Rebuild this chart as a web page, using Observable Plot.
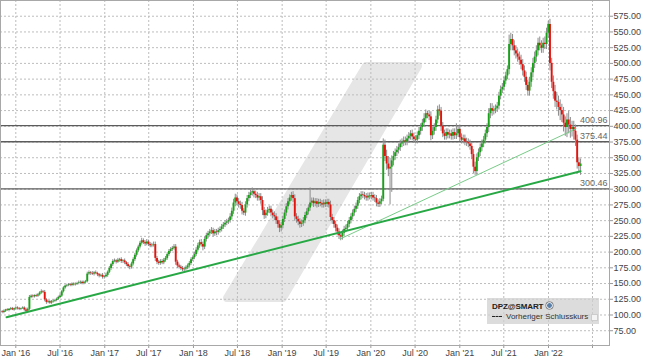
<!DOCTYPE html>
<html><head><meta charset="utf-8">
<script src="https://cdn.jsdelivr.net/npm/d3@7"></script>
<script src="https://cdn.jsdelivr.net/npm/@observablehq/plot@0.6"></script>
<style>
html,body{margin:0;padding:0;background:#fff;}
#chart{position:relative;width:645px;height:364px;font-family:"Liberation Sans",Arial,sans-serif;}
#legend{position:absolute;left:487px;top:298px;width:112px;height:26px;background:rgba(208,208,208,0.75);font-size:8px;color:#222;}
#legend .l1{position:absolute;left:5px;top:4px;font-weight:bold;letter-spacing:-0.1px;}
#legend .globe{display:inline-block;width:5px;height:5px;border-radius:50%;background:#5a7fa8;margin-left:3px;vertical-align:0px;border:1px solid #fff;box-shadow:0 0 0 0.5px #666;}
#legend .l2{position:absolute;left:5px;top:14px;white-space:nowrap;color:#333;}
#legend .dash{display:inline-block;width:10px;height:0;border-top:1px dashed #222;vertical-align:2px;margin-right:4px;}
#legend .box{position:absolute;left:99px;top:2px;width:5px;height:5px;background:#f4f4f4;border:0.5px solid #ccc;}
</style>
</head><body>
<div id="chart"><div id="legend"><div class="l1">DPZ@SMART<span class="globe"></span></div><div class="l2"><span class="dash"></span>Vorheriger Schlusskurs<span class="box"></span></div></div></div>
<script>
// ---- data (weekly candles, DPZ) ----
const firstWeek = "2015-11-06";
const firstOpen = 105;
const weeklyClose = [
104,106,108,107,109,110,108,110,111,110,
109,110,111,108,106,109,128,130,129,131,
130,132,135,137,136,124,120,121,119,121,
122,123,125,128,130,137,143,146,147,148,
147,149,148,149,150,151,152,150,152,153,
165,167,166,165,167,166,164,162,163,160,
161,163,168,174,180,185,186,184,187,188,
185,186,183,180,177,176,181,188,195,202,
208,214,218,215,213,216,212,210,211,212,
190,184,182,185,183,187,190,196,201,204,
206,208,184,178,176,174,172,173,175,178,
182,188,191,196,203,210,215,212,208,220,
226,229,232,234,229,232,231,234,236,240,
243,246,248,250,256,265,278,286,280,276,
274,265,262,275,285,290,294,296,292,290,
286,288,282,266,258,262,266,268,262,258,
256,250,244,238,242,252,262,272,280,286,
290,285,256,252,248,244,246,250,258,264,
270,278,281,277,280,276,279,277,275,278,
276,279,275,255,250,244,238,232,226,224,
230,236,238,244,250,256,262,268,273,282,
288,291,290,288,286,289,288,290,286,285,
278,276,280,284,370,352,340,332,335,345,
352,358,362,366,372,374,377,375,380,384,
388,383,379,378,385,392,398,405,412,420,
418,415,385,392,398,410,426,424,400,388,
384,390,386,388,384,390,385,388,395,382,
378,380,375,374,372,368,355,335,328,350,
358,366,372,378,388,398,420,428,424,426,
428,432,448,458,462,472,480,490,530,538,
528,520,515,510,505,498,488,478,465,456,
470,485,500,510,520,532,528,524,532,530,
548,562,500,470,455,440,438,430,425,418,
405,398,410,402,395,398,392,378,342,336,
340];
const upperWick = [
2,2,1,2,1,2,2,1,2,2, 2,1,2,2,3,2,3,2,2,1, 2,2,2,3,2,3,2,2,2,2, 2,2,2,2,3,2,2,2,2,2,
2,2,2,2,2,3,2,2,2,2, 3,3,2,3,2,3,2,2,2,3, 2,3,2,3,2,3,3,2,3,2, 3,2,3,2,3,2,3,3,3,3,
3,3,4,3,3,4,3,3,3,4, 4,3,3,3,3,3,3,3,3,3, 3,4,4,3,3,3,3,3,3,3, 3,3,3,4,4,4,4,5,4,4,
4,4,4,5,4,4,4,4,4,4, 4,4,4,4,5,5,6,6,5,5, 5,5,4,5,5,5,5,6,5,5, 5,5,5,6,5,5,5,5,5,5,
6,5,6,6,5,5,5,5,5,5, 5,6,6,5,5,5,5,5,5,5, 5,24,5,5,5,5,5,5,5,5, 5,5,5,6,5,5,5,5,5,5,
5,5,5,5,5,5,5,5,5,5, 5,5,5,5,5,5,5,5,5,5, 5,5,5,5,10,8,10,12,14,8, 8,6,6,6,6,6,6,6,6,6,
5,6,6,6,6,6,6,6,8,6, 4,6,8,6,6,6,6,8,6,6, 6,6,6,6,6,6,6,16,6,6, 6,6,6,6,6,6,6,8,8,6,
6,6,6,6,6,6,8,8,8,6, 6,6,6,6,6,6,6,6,15,10, 8,8,8,8,8,8,8,8,8,8, 8,8,8,8,8,8,10,8,8,10,
8,5,8,8,10,10,14,10,12,10, 12,10,10,14,12,10,10,10,8,8, 8];
const lowerWick = [
2,2,2,1,2,2,1,2,2,2, 2,2,1,2,3,2,2,2,2,2, 2,2,2,2,2,3,3,2,2,2, 2,2,2,2,2,2,2,2,2,2,
2,2,2,2,2,2,2,2,2,2, 2,2,3,2,3,2,3,3,2,3, 3,2,3,2,3,3,2,3,2,3, 3,3,3,3,3,4,3,3,3,3,
3,3,3,3,4,3,3,3,3,3, 5,4,3,3,3,3,3,3,3,3, 3,3,5,4,3,3,3,3,3,3, 3,3,3,3,3,3,4,4,6,4,
4,5,4,4,5,4,5,4,4,4, 4,4,4,4,4,5,5,6,6,6, 6,6,4,5,5,5,5,5,6,5, 5,5,6,8,6,5,5,5,6,5,
6,6,6,7,6,5,5,5,5,5, 5,6,7,6,6,6,5,5,5,5, 5,5,5,6,5,6,5,5,5,5, 5,5,5,6,6,6,6,6,6,6,
5,5,5,5,5,5,5,5,5,5, 5,5,5,5,5,5,5,5,5,6, 6,5,5,5,4,8,10,12,57,40, 8,6,6,6,6,6,6,6,6,6,
6,6,6,6,6,6,6,6,6,6, 6,6,8,6,6,6,6,8,8,6, 6,6,6,6,6,6,6,6,6,6, 6,6,6,6,6,6,8,10,6,6,
6,6,6,6,6,6,8,8,8,6, 6,6,6,6,6,6,6,6,8,10, 8,8,8,8,8,8,8,8,8,8, 8,8,8,8,8,8,8,8,8,8,
8,8,12,10,12,10,12,14,16,12, 14,14,16,14,14,12,14,10,10,8, 14];

const levelValues = [400.96, 375.44, 300.46];
const mainTrendDates = ["2015-11-24", "2022-05-13"];
const mainTrendValues = [96.5, 328.6];
const fastTrendDates = ["2019-08-28", "2022-04-24"];
const fastTrendValues = [221, 396];
const yTickValues = [75,100,125,150,175,200,225,250,275,300,325,350,375,400,425,450,475,500,525,550,575];
const xTickDates = ["2016-01-01","2016-07-01","2017-01-01","2017-07-01","2018-01-01","2018-07-01","2019-01-01","2019-07-01","2020-01-01","2020-07-01","2021-01-01","2021-07-01","2022-01-01","2022-07-01"];
const xTickLabels = ["Jan '16","Jul '16","Jan '17","Jul '17","Jan '18","Jul '18","Jan '19","Jul '19","Jan '20","Jul '20","Jan '21","Jul '21","Jan '22",""];

// ---- build ----
const t0 = new Date(firstWeek + "T00:00:00Z");
const candles = weeklyClose.map((c, i) => {
  const o = i === 0 ? firstOpen : weeklyClose[i - 1];
  return {date: d3.utcDay.offset(t0, 7 * i), open: o, close: c,
          high: Math.max(o, c) + upperWick[i], low: Math.min(o, c) - lowerWick[i]};
});
const toDate = s => new Date(s + "T00:00:00Z");
const mainTrend = mainTrendDates.map((d, i) => ({date: toDate(d), value: mainTrendValues[i]}));
const fastTrend = fastTrendDates.map((d, i) => ({date: toDate(d), value: fastTrendValues[i]}));
const xTicks = xTickDates.map(toDate);
const labelOf = new Map(xTicks.map((d, i) => [+d, xTickLabels[i]]));

const plot = Plot.plot({
  width: 645, height: 364,
  marginLeft: 0, marginRight: 36, marginTop: 0, marginBottom: 19,
  style: {fontFamily: "'Liberation Sans', Arial, sans-serif", fontSize: "9px", color: "#444", background: "#fff"},
  x: {type: "utc", domain: [toDate("2015-10-30"), toDate("2022-09-09")]},
  y: {domain: [51.5, 600]},
  color: {type: "identity"},
  marks: [
    Plot.gridY(yTickValues, {stroke: "#bdbdbd", strokeOpacity: 1, strokeDasharray: "2,2"}),
    Plot.gridX(xTicks, {stroke: "#bdbdbd", strokeOpacity: 1, strokeDasharray: "2,2"}),
    Plot.ruleY(levelValues, {stroke: "#5c5c5c", strokeWidth: 1.3}),
    Plot.text(levelValues, {y: d => d, frameAnchor: "right", text: d => d.toFixed(2), textAnchor: "end", dx: -2, dy: -6, fill: "#666", fontSize: 9}),
    Plot.ruleX(candles, {x: "date", y1: "low", y2: "high", stroke: "#8c8c8c", strokeWidth: 1}),
    Plot.ruleX(candles, {x: "date", y1: "open", y2: "close", stroke: d => d.close >= d.open ? "#16a316" : "#e8120c", strokeWidth: 1.9}),
    Plot.line(fastTrend, {x: "date", y: "value", stroke: "#78cc88", strokeWidth: 1}),
    Plot.line(mainTrend, {x: "date", y: "value", stroke: "#27a845", strokeWidth: 2}),
    Plot.axisY({anchor: "right", ticks: yTickValues, tickFormat: d3.format(".2f"), tickSize: 3, tickPadding: 1, label: null, stroke: "#999"}),
    Plot.axisX({ticks: xTicks, tickFormat: d => labelOf.get(+d), tickSize: 3, tickPadding: 1, label: null, stroke: "#999"}),
    Plot.frame({stroke: "#a8a8a8"})
  ]
});
// background watermark (decorative slanted bar), placed behind all marks
const svg = d3.select(plot);
svg.insert("path", ":first-child")
  .attr("d", "M366,66 L418,66 L283,298 L227,298 Z")
  .attr("fill", "#e6e6e6").attr("stroke", "#e6e6e6").attr("stroke-width", 8).attr("stroke-linejoin", "round");
document.getElementById("chart").prepend(plot);
</script>
</body></html>
